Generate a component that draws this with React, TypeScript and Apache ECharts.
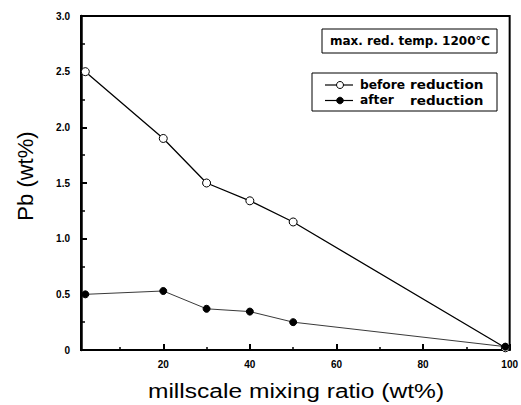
import React, { useEffect, useRef } from "react";
import * as echarts from "echarts";

// millscale mixing ratio (wt%)
const ratioBefore = [2, 20, 30, 40, 50, 99];
const pbBefore = [2.5, 1.9, 1.5, 1.34, 1.15, 0.02];
const ratioAfter = [2, 20, 30, 40, 50, 99];
const pbAfter = [0.5, 0.53, 0.37, 0.345, 0.25, 0.03];

const xMajorTicks = [20, 40, 60, 80, 100];
const xMinorTicks = [10, 30, 50, 70, 90];

const seriesNames = ["before reduction", "after reduction"];
const legendWords = [
  ["before", "reduction"],
  ["after", "reduction"],
];
const noteText = "max. red. temp. 1200\u2103";
const xTitle = "millscale mixing ratio (wt%)";
const yTitle = "Pb (wt%)";

const FONT = "'Liberation Sans', Arial, sans-serif";
const BOX_FONT = "'DejaVu Sans', sans-serif";

export default function App() {
  const ref = useRef<HTMLDivElement>(null);

  useEffect(() => {
    if (!ref.current) return;
    const chart = echarts.init(ref.current, null, { renderer: "svg" });
    const pair = (xs: number[], ys: number[]) => xs.map((x, i) => [x, ys[i]]);

    const boxText = (text: string, x: number, y: number, scaleX: number, align = "left") => ({
      type: "text",
      x,
      y,
      scaleX,
      style: {
        text,
        fontSize: 12,
        fontWeight: "bold",
        fontFamily: BOX_FONT,
        fill: "#000",
        align,
        verticalAlign: "middle",
      },
    });

    // hand-drawn legend rows: line + marker + two words
    const legendRow = (i: number, y: number, filled: boolean) => [
      {
        type: "line",
        shape: { x1: 325, y1: y, x2: 353, y2: y },
        style: { stroke: "#000", lineWidth: 1.2 },
      },
      {
        type: "circle",
        shape: { cx: 340, cy: y, r: filled ? 3.3 : 3.5 },
        style: { fill: filled ? "#000" : "#fff", stroke: "#000", lineWidth: 1 },
      },
      boxText(legendWords[i][0], 360, y, 1.02),
      boxText(legendWords[i][1], 410, y, 1.13),
    ];

    chart.setOption({
      animation: false,
      backgroundColor: "#fff",
      textStyle: { fontFamily: FONT },
      grid: {
        left: 81,
        top: 16,
        right: 11,
        bottom: 55,
        show: true,
        borderColor: "#000",
        borderWidth: 2,
      },
      xAxis: [
        {
          type: "value",
          min: 1,
          max: 100,
          axisLine: { lineStyle: { color: "#000", width: 2 } },
          axisTick: { inside: true, length: 6, customValues: xMajorTicks, lineStyle: { color: "#000", width: 2 } },
          axisLabel: {
            customValues: xMajorTicks,
            fontSize: 10,
            fontWeight: "bold",
            color: "#000",
            margin: 9,
          },
          splitLine: { show: false },
        },
        {
          type: "value",
          min: 1,
          max: 100,
          position: "bottom",
          axisLine: { show: false },
          axisTick: { inside: true, length: 3, customValues: xMinorTicks, lineStyle: { color: "#000", width: 1.5 } },
          axisLabel: { show: false },
          splitLine: { show: false },
        },
      ],
      yAxis: {
        type: "value",
        min: 0,
        max: 3,
        interval: 0.5,
        axisLine: { lineStyle: { color: "#000", width: 2.5 } },
        axisTick: { inside: true, length: 6, lineStyle: { color: "#000", width: 2 } },
        minorTick: { show: true, splitNumber: 2, length: 4, lineStyle: { color: "#000", width: 1.5 } },
        axisLabel: {
          fontSize: 10,
          fontWeight: "bold",
          color: "#000",
          margin: 11,
          formatter: (v: number) => (v === 0 ? "0" : v.toFixed(1)),
        },
        splitLine: { show: false },
      },
      series: [
        {
          name: seriesNames[0],
          type: "line",
          data: pair(ratioBefore, pbBefore),
          symbol: "circle",
          symbolSize: 8,
          itemStyle: { color: "#fff", borderColor: "#000", borderWidth: 1 },
          lineStyle: { color: "#000", width: 1.3 },
        },
        {
          name: seriesNames[1],
          type: "line",
          data: pair(ratioAfter, pbAfter),
          symbol: "circle",
          symbolSize: 7,
          itemStyle: { color: "#000", borderColor: "#000", borderWidth: 1 },
          lineStyle: { color: "#222", width: 0.9 },
        },
      ],
      graphic: [
        // axis titles
        {
          type: "text",
          x: 296,
          y: 391,
          scaleX: 1.17,
          style: {
            text: xTitle,
            fontSize: 21,
            fontFamily: FONT,
            fill: "#000",
            align: "center",
            verticalAlign: "middle",
          },
        },
        {
          type: "text",
          x: 25,
          y: 176,
          rotation: Math.PI / 2,
          style: {
            text: yTitle,
            fontSize: 22,
            fontFamily: FONT,
            fill: "#000",
            align: "center",
            verticalAlign: "middle",
          },
        },
        // temperature note
        {
          type: "rect",
          shape: { x: 322, y: 29, width: 175, height: 24 },
          style: { fill: "#fff", stroke: "#000", lineWidth: 1 },
        },
        boxText(noteText, 410, 41, 1.0, "center"),
        // legend
        {
          type: "rect",
          shape: { x: 312, y: 73, width: 185, height: 38 },
          style: { fill: "#fff", stroke: "#000", lineWidth: 1 },
        },
        ...legendRow(0, 85, false),
        ...legendRow(1, 100.5, true),
      ],
    });

    return () => chart.dispose();
  }, []);

  return (
    <div
      ref={ref}
      style={{ position: "fixed", left: 0, top: 0, width: 521, height: 405 }}
    />
  );
}
